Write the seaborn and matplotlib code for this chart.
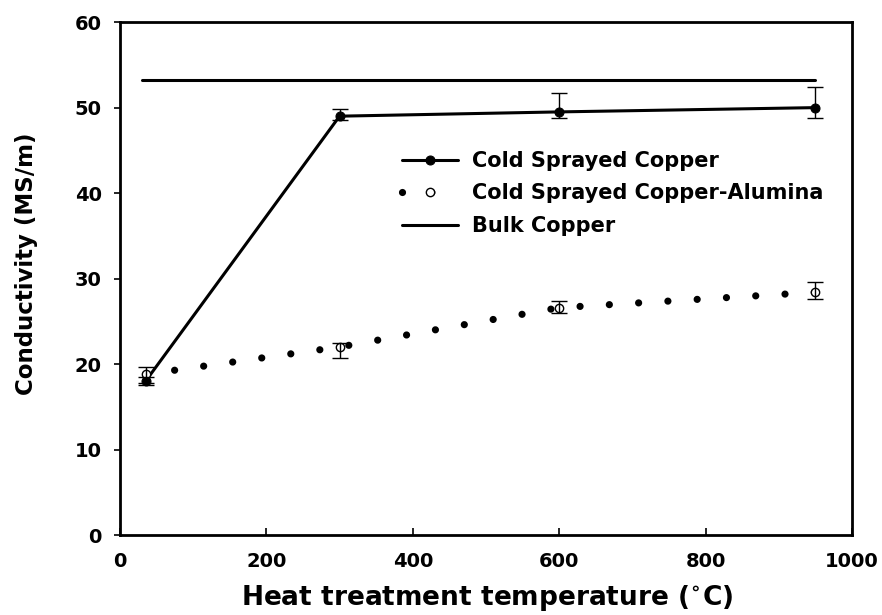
import matplotlib
matplotlib.use("Agg")
import matplotlib.pyplot as plt
import seaborn as sns
import pandas as pd

# heat treatment temperatures (C)
temps = [35, 300, 600, 950]

# cold sprayed copper
copper = [18.0, 49.0, 49.5, 50.0]
copper_lo = [17.6, 48.5, 48.8, 48.8]
copper_hi = [18.5, 49.8, 51.7, 52.4]

# cold sprayed copper-alumina
alumina = [18.8, 22.0, 26.6, 28.4]
alumina_lo = [17.8, 20.7, 26.0, 27.6]
alumina_hi = [19.6, 22.5, 27.4, 29.6]

# bulk copper reference
bulk_x = [30, 950]
bulk_y = [53.2, 53.2]

xticks = [0, 200, 400, 600, 800, 1000]
yticks = [0, 10, 20, 30, 40, 50, 60]

sns.set_style("ticks")
plt.rcParams['font.family'] = ['DejaVu Sans']
plt.rcParams['font.weight'] = 'bold'
plt.rcParams['mathtext.default'] = 'bf'
plt.rcParams['text.color'] = 'black'
plt.rcParams['axes.labelcolor'] = 'black'
plt.rcParams['xtick.color'] = 'black'
plt.rcParams['ytick.color'] = 'black'

fig = plt.figure(figsize=(8.82, 6.15), dpi=100)
ax = fig.add_axes([0.136, 0.130, 0.830, 0.834])

df_cu = pd.DataFrame({'T': temps, 'k': copper})
df_al = pd.DataFrame({'T': temps, 'k': alumina})
df_bulk = pd.DataFrame({'T': bulk_x, 'k': bulk_y})

sns.lineplot(data=df_cu, x='T', y='k', ax=ax, color='black', lw=2.2,
             marker='o', markersize=6.5, markerfacecolor='black',
             markeredgecolor='black', errorbar=None,
             label='Cold Sprayed Copper', zorder=3)
sns.lineplot(data=df_al, x='T', y='k', ax=ax, color='black', lw=5.2,
             marker='o', markersize=6, markerfacecolor='white',
             markeredgecolor='black', markeredgewidth=1.0, errorbar=None,
             label='Cold Sprayed Copper-Alumina', zorder=3)
al_line = ax.lines[-1]
al_line.set_dashes((0.001, 4.06))
al_line.set_dash_capstyle('round')
sns.lineplot(data=df_bulk, x='T', y='k', ax=ax, color='black', lw=2.2,
             errorbar=None, label='Bulk Copper')

# error bars
ax.errorbar(temps, copper,
            yerr=[[c - l for c, l in zip(copper, copper_lo)],
                  [h - c for c, h in zip(copper, copper_hi)]],
            fmt='none', ecolor='black', elinewidth=1.0, capsize=5.5, capthick=1.0, zorder=4)
ax.errorbar(temps, alumina,
            yerr=[[a - l for a, l in zip(alumina, alumina_lo)],
                  [h - a for a, h in zip(alumina, alumina_hi)]],
            fmt='none', ecolor='black', elinewidth=1.0, capsize=5.5, capthick=1.0, zorder=4)

ax.set_xlim(0, 1000)
ax.set_ylim(0, 60)
ax.set_xticks(xticks)
ax.set_yticks(yticks)
ax.tick_params(axis='x', direction='in', length=5, width=1.2, pad=12, labelsize=14)
ax.tick_params(axis='y', direction='out', length=4, width=1.2, pad=9, labelsize=14)
for lab in ax.get_xticklabels() + ax.get_yticklabels():
    lab.set_fontweight('bold')

for side in ['left', 'bottom', 'top', 'right']:
    ax.spines[side].set_visible(True)
    ax.spines[side].set_linewidth(2.0)
    ax.spines[side].set_color('black')

ax.set_xlabel('Heat treatment temperature ($^{\\circ}$C)', fontsize=19, fontweight='bold')
ax.set_ylabel('Conductivity (MS/m)', fontsize=16.5, fontweight='bold')
ax.xaxis.set_label_coords(0.501, -0.093)
ax.yaxis.set_label_coords(-0.112, 0.528)

leg = ax.legend(loc='upper left', bbox_to_anchor=(0.385, 0.749), frameon=False,
                fontsize=15, handlelength=2.7, handletextpad=0.67,
                labelspacing=0.6, borderaxespad=0, borderpad=0)
for t in leg.get_texts():
    t.set_fontweight('bold')

fig.savefig('out.png', dpi=100)
